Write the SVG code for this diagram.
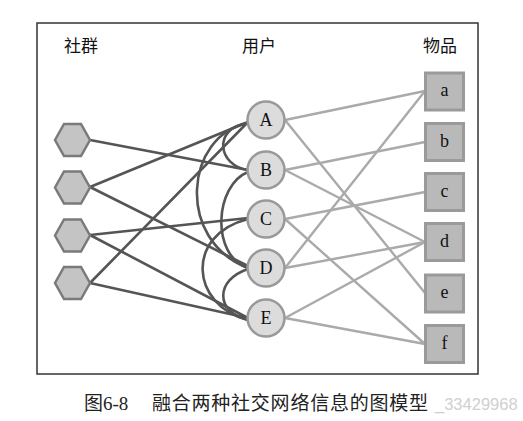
<svg xmlns="http://www.w3.org/2000/svg" xmlns:xlink="http://www.w3.org/1999/xlink" width="523" height="421" viewBox="0 0 523 421">
<style>
.frame{fill:#fff;stroke:#333;stroke-width:1.5}
.hex{fill:#c4c4c4;stroke:#7a7a7a;stroke-width:2.5}
.user{fill:#dcdcdc;stroke:#999;stroke-width:2.5}
.item{fill:#b9b9b9;stroke:#9a9a9a;stroke-width:3}
.dark{stroke:#555;stroke-width:2.6;fill:none;stroke-linecap:round}
.light{stroke:#aaa;stroke-width:2.4;fill:none;stroke-linecap:round}
.hdr{font-family:"Noto Sans CJK SC",sans-serif;font-size:17px;fill:#111;text-anchor:middle}
.lbl{font-family:"Liberation Serif",serif;font-size:18px;fill:#111;text-anchor:middle;dominant-baseline:central}
.cap{font-family:"Liberation Serif","Noto Sans CJK SC",serif;font-size:19px;fill:#222}
.wm{font-family:"Liberation Sans",sans-serif;font-size:16.5px;fill:#d0d0d0}
</style>
<defs>
<polygon id="hexshape" points="-17.5,0 -8.5,-16 8.5,-16 17.5,0 8.5,16 -8.5,16"/>
</defs>
<rect class="frame" x="37" y="23" width="441" height="351"/>
<g id="headers">
<text class="hdr" x="81" y="52">社群</text>
<text class="hdr" x="259" y="52">用户</text>
<text class="hdr" x="440" y="52">物品</text>
</g>
<g id="connectors">
<line class="light" x1="285" y1="120" x2="425" y2="91"/>
<line class="light" x1="285" y1="120" x2="425" y2="293"/>
<line class="light" x1="285" y1="170" x2="425" y2="142"/>
<line class="light" x1="285" y1="170" x2="425" y2="242"/>
<line class="light" x1="285" y1="219" x2="425" y2="192"/>
<line class="light" x1="285" y1="219" x2="425" y2="344"/>
<line class="light" x1="285" y1="268" x2="425" y2="91"/>
<line class="light" x1="285" y1="268" x2="425" y2="242"/>
<line class="light" x1="285" y1="318" x2="425" y2="242"/>
<line class="light" x1="285" y1="318" x2="425" y2="344"/>
<line class="dark" x1="90" y1="140" x2="248" y2="170"/>
<line class="dark" x1="90" y1="187" x2="248" y2="122"/>
<line class="dark" x1="90" y1="187" x2="248" y2="266"/>
<line class="dark" x1="90" y1="235" x2="248" y2="218"/>
<line class="dark" x1="90" y1="235" x2="248" y2="318"/>
<line class="dark" x1="90" y1="283" x2="248" y2="122"/>
<line class="dark" x1="90" y1="283" x2="248" y2="318"/>
<path class="dark" d="M248,123 C212,128 218,166 248,170"/>
<path class="dark" d="M248,123 C185,135 175,240 248,268"/>
<path class="dark" d="M248,172 C215,185 210,255 248,268"/>
<path class="dark" d="M248,219 C185,235 190,305 248,320"/>
<path class="dark" d="M248,269 C215,280 215,312 248,320"/>
</g>
<g id="hex1"><use xlink:href="#hexshape" class="hex" x="72.5" y="140"/></g>
<g id="hex2"><use xlink:href="#hexshape" class="hex" x="72.5" y="187.5"/></g>
<g id="hex3"><use xlink:href="#hexshape" class="hex" x="72.5" y="235.5"/></g>
<g id="hex4"><use xlink:href="#hexshape" class="hex" x="72.5" y="283"/></g>
<g id="userA"><circle class="user" cx="266" cy="120" r="18.5"/><text class="lbl" x="266" y="120">A</text></g>
<g id="userB"><circle class="user" cx="266" cy="170" r="18.5"/><text class="lbl" x="266" y="170">B</text></g>
<g id="userC"><circle class="user" cx="266" cy="219" r="18.5"/><text class="lbl" x="266" y="219">C</text></g>
<g id="userD"><circle class="user" cx="266" cy="268" r="18.5"/><text class="lbl" x="266" y="268">D</text></g>
<g id="userE"><circle class="user" cx="266" cy="318" r="18.5"/><text class="lbl" x="266" y="318">E</text></g>
<g id="itema"><rect class="item" x="425.5" y="73" width="38" height="37"/><text class="lbl" x="444.5" y="90">a</text></g>
<g id="itemb"><rect class="item" x="425.5" y="123.5" width="38" height="37"/><text class="lbl" x="444.5" y="141">b</text></g>
<g id="itemc"><rect class="item" x="425.5" y="173.5" width="38" height="37"/><text class="lbl" x="444.5" y="191">c</text></g>
<g id="itemd"><rect class="item" x="425.5" y="223.5" width="38" height="37"/><text class="lbl" x="444.5" y="241">d</text></g>
<g id="iteme"><rect class="item" x="425.5" y="275" width="38" height="37"/><text class="lbl" x="444.5" y="292">e</text></g>
<g id="itemf"><rect class="item" x="425.5" y="325.5" width="38" height="37"/><text class="lbl" x="444.5" y="343">f</text></g>
<g id="caption">
<text class="cap" x="84" y="410">图6-8</text>
<text class="cap" x="152" y="410" textLength="276" lengthAdjust="spacing">融合两种社交网络信息的图模型</text>
<text class="wm" x="435" y="410">_33429968</text>
</g>
</svg>
